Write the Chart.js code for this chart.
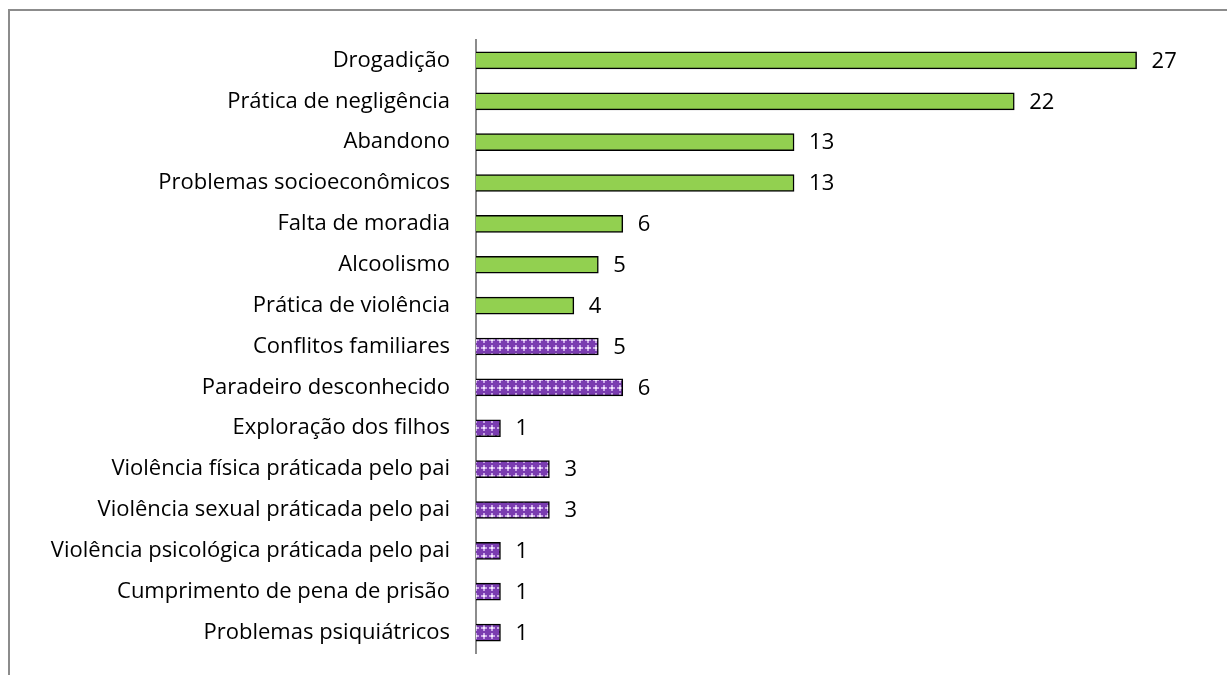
<!DOCTYPE html>
<html lang="pt">
<head>
<meta charset="utf-8" />
<script src="https://cdnjs.cloudflare.com/ajax/libs/Chart.js/4.4.1/chart.umd.min.js"></script>
<style>
  html, body { margin: 0; padding: 0; background: #fff; overflow: hidden; }
  #marco { position: absolute; left: 8px; top: 9px; width: 1400px; height: 900px; border: 2px solid #8c8c8c; }
  #caixa { position: absolute; left: 0; top: 0; width: 1227px; height: 675px; }
</style>
<title>Motivos</title>
</head>
<body>
<div id="marco"></div>
<div id="caixa"><canvas id="grafico" width="1227" height="675"></canvas></div>
<script>
// categorias e valores
const categorias = [
  "Drogadição", "Prática de negligência", "Abandono", "Problemas socioeconômicos",
  "Falta de moradia", "Alcoolismo", "Prática de violência", "Conflitos familiares",
  "Paradeiro desconhecido", "Exploração dos filhos", "Violência física práticada pelo pai",
  "Violência sexual práticada pelo pai", "Violência psicológica práticada pelo pai",
  "Cumprimento de pena de prisão", "Problemas psiquiátricos"
];
const valores = [27, 22, 13, 13, 6, 5, 4, 5, 6, 1, 3, 3, 1, 1, 1];
// grupo: 0 = verde liso, 1 = roxo xadrez
const grupos = [0, 0, 0, 0, 0, 0, 0, 1, 1, 1, 1, 1, 1, 1, 1];

const fonte = "'Open Sans', sans-serif";

// textura roxa
function padraoRoxo() {
  const c = document.createElement("canvas");
  c.width = 8; c.height = 8;
  const g = c.getContext("2d");
  g.fillStyle = "#7a3cb0";
  g.fillRect(0, 0, 8, 8);
  g.fillStyle = "#c9a6e6";
  g.fillRect(3, 1, 2, 6);
  g.fillRect(1, 3, 6, 2);
  g.fillStyle = "#f4ecfb";
  g.fillRect(3, 3, 2, 2);
  return g.createPattern(c, "repeat");
}
const roxo = padraoRoxo();
const cores = grupos.map(g => g === 0 ? "#92d050" : roxo);

const rotulos = {
  id: "rotulos",
  afterDatasetsDraw(chart) {
    const ctx = chart.ctx;
    const meta = chart.getDatasetMeta(0);
    ctx.save();
    ctx.font = "22px " + fonte;
    ctx.fillStyle = "#000";
    ctx.textAlign = "left";
    ctx.textBaseline = "middle";
    meta.data.forEach((bar, i) => {
      ctx.fillText(String(valores[i]), bar.x + 15, bar.y + 1);
    });
    ctx.restore();
  }
};

new Chart(document.getElementById("grafico").getContext("2d"), {
  type: "bar",
  data: {
    labels: categorias,
    datasets: [{
      data: valores,
      backgroundColor: cores,
      borderColor: "#000",
      borderWidth: 1.5,
      barThickness: 17
    }]
  },
  options: {
    indexAxis: "y",
    responsive: false,
    animation: false,
    layout: { padding: { top: 40, bottom: 22, right: 17, left: 0 } },
    plugins: { legend: { display: false }, tooltip: { enabled: false } },
    scales: {
      x: { display: false, min: 0, max: 30 },
      y: {
        afterFit(scale) { scale.width = 476; },
        grid: { display: false, drawTicks: true, tickLength: 26 },
        border: { display: true, color: "#8c8c8c", width: 2 },
        ticks: {
          color: "#000",
          padding: 0,
          font: { family: fonte, size: 22 }
        }
      }
    }
  },
  plugins: [rotulos]
});
</script>
</body>
</html>
